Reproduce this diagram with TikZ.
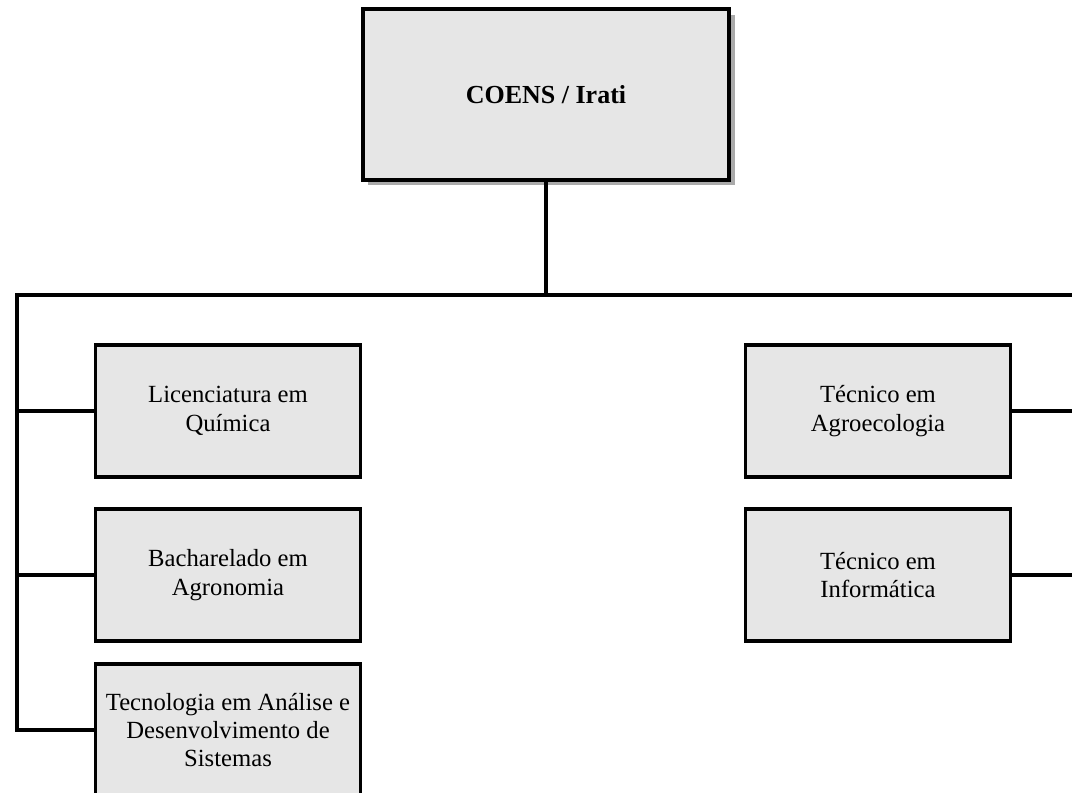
\documentclass[tikz,border=0pt]{standalone}
\usepackage{fontspec}
\setmainfont{Liberation Serif}
\usetikzlibrary{shadows}

\definecolor{boxfill}{RGB}{230,230,230}
\definecolor{bigshade}{RGB}{170,170,170}
\definecolor{smallshade}{RGB}{200,200,200}

\tikzset{
	rootbox/.style={draw, line width=3pt, fill=boxfill, minimum width=275pt, minimum height=128pt, align=center, font=\fontsize{19.5}{22}\selectfont, drop shadow={shadow xshift=4pt, shadow yshift=-4pt, fill=bigshade, opacity=1}},
	course/.style={draw, line width=2.6pt, fill=boxfill, minimum width=199pt, minimum height=99pt, align=center, font=\fontsize{18.5}{21.3}\selectfont, drop shadow={shadow xshift=1.2pt, shadow yshift=-1.2pt, fill=smallshade, opacity=1}},
	link/.style={line width=2.6pt}
}

\begin{document}
\begin{tikzpicture}[x=0.75pt,y=0.75pt,yscale=-1,xscale=1]
	%set diagram frame: 1072 x 793
	\useasboundingbox (0,0) rectangle (1072,793);
	\clip (0,0) rectangle (1072,793);
	
	%Bus coordinates
	\coordinate (busL) at (17,295);
	\coordinate (busR) at (1080,295);
	
	%Shape: Root box
	\node[rootbox] (coens) at (546,94.5) {\textbf{COENS / Irati}};
	
	%Shape: Left column
	\node[course] (quimica) at (228,411) {Licenciatura em\\Química};
	\node[course] (agronomia) at (228,575) {Bacharelado em\\Agronomia};
	\node[course] (ads) at (228,730) {Tecnologia em Análise e\\Desenvolvimento de\\Sistemas};
	
	%Shape: Right column
	\node[course] (agroeco) at (878,411) {Técnico em\\Agroecologia};
	\node[course] (informatica) at (878,575) {Técnico em\\Informática};
	
	%Connectors
	\draw[link] (coens.south) -- (coens.south |- busL);
	\draw[link] (busR) -- (busL) |- (ads.west);
	\draw[link] (quimica.west) -- (quimica.west -| busL);
	\draw[link] (agronomia.west) -- (agronomia.west -| busL);
	\draw[link] (agroeco.east) -- (agroeco.east -| busR);
	\draw[link] (informatica.east) -- (informatica.east -| busR);
	
\end{tikzpicture}
\end{document}
